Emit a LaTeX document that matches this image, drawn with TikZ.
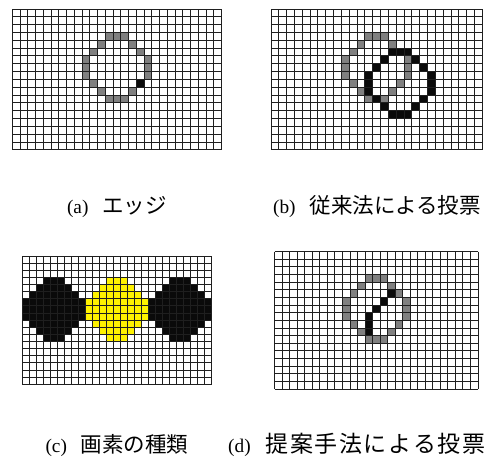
\documentclass[tikz,border=0pt]{standalone}
\usepackage{fontspec}
\setmainfont{Liberation Serif}
\newfontfamily\cjk{Noto Sans CJK JP}
\newcommand\jt[1]{{\cjk\fontsize{21.5}{24}\selectfont #1}}
\newcommand\jtd[1]{{\cjk\fontsize{23}{25}\selectfont #1}}
\begin{document}
\begin{tikzpicture}[x=1pt,y=-1pt,
  gl/.style={draw=black!88,line width=1pt},
  grayc/.style={fill=black!50},
  blackc/.style={fill=black!96},
  yellowc/.style={fill=yellow},
  captxt/.style={inner sep=0pt,anchor=base,font=\fontsize{19.3}{22}\selectfont}]
\useasboundingbox (0,0) rectangle (486,459);
\newcommand\gridlines{%
  \foreach \i in {0,...,27} \draw[gl] (\i,0) -- (\i,18);
  \foreach \j in {0,...,18} \draw[gl] (0,\j) -- (27,\j);}
\newcommand\ringcells[3]{%
  \foreach \dc/\dr in {3/0,4/0,5/0,2/1,6/1,1/2,7/2,0/3,8/3,0/4,8/4,0/5,8/5,1/6,7/6,2/7,6/7,3/8,4/8,5/8}
    \fill[#1] ({#2+\dc},{#3+\dr}) rectangle ++(1,1);}
\newcommand\diskcells[3]{%
  \foreach \dr/\a/\b in {0/3/5,1/2/6,2/1/7,3/0/8,4/0/8,5/0/8,6/1/7,7/2/6,8/3/5}
    \fill[#1] ({#2+\a},{#3+\dr}) rectangle ({#2+\b+1},{#3+\dr+1});}
% (a)
\begin{scope}[shift={(12.3,9)},xscale=7.756,yscale=7.83]
  \ringcells{grayc}{9}{3}
  \fill[blackc] (16,9) rectangle ++(1,1);
  \gridlines
\end{scope}
% (b)
\begin{scope}[shift={(271,9)},xscale=7.826,yscale=7.83]
  \ringcells{grayc}{9}{3}
  \ringcells{blackc}{12}{5}
  \gridlines
\end{scope}
% (c)
\begin{scope}[shift={(22,256)},xscale=7.026,yscale=7.13]
  \diskcells{blackc}{0}{3}
  \diskcells{yellowc}{9}{3}
  \diskcells{blackc}{18}{3}
  \gridlines
\end{scope}
% (d)
\begin{scope}[shift={(274.7,251.7)},xscale=7.53,yscale=7.63]
  \ringcells{grayc}{9}{3}
  \foreach \c/\r in {15/5,14/6,13/7,12/8,12/9,12/10}
    \fill[blackc] (\c,\r) rectangle ++(1,1);
  \gridlines
\end{scope}
\node[captxt] (capa) at (117,213) {(a)\hspace{14pt}\jt{エッジ}};
\node[captxt] (capb) at (377,213) {(b)\hspace{14pt}\jt{従来法による投票}};
\node[captxt] (capc) at (117,452) {(c)\hspace{14pt}\jt{画素の種類}};
\node[captxt,anchor=base west] (capd) at (228,452) {\makebox[257pt][s]{(d)\hspace{15pt}\jtd{提\hfill 案\hfill 手\hfill 法\hfill に\hfill よ\hfill る\hfill 投\hfill 票}}};
\end{tikzpicture}
\end{document}
